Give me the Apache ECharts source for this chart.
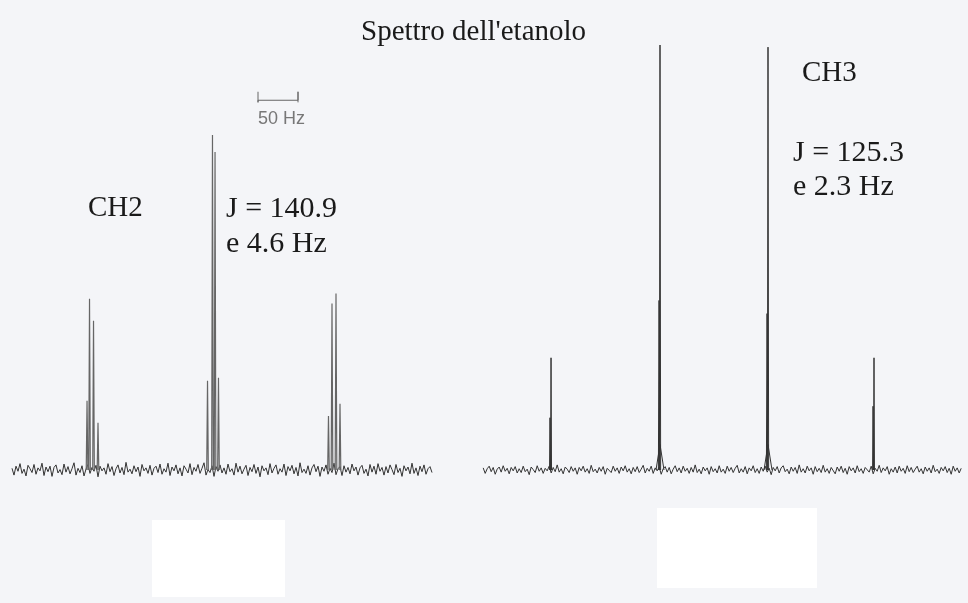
<!DOCTYPE html>
<html>
<head>
<meta charset="utf-8">
<title>Spettro dell'etanolo</title>
<script src="https://cdn.jsdelivr.net/npm/echarts@6/dist/echarts.min.js"></script>
<style>
    html, body { margin: 0; padding: 0; background: #f4f5f8; }
    #chart { width: 968px; height: 603px; }
</style>
</head>
<body>
<div id="chart"></div>
<script>
// Spettro 13C dell'etanolo (accoppiato), asse x in Hz, asse y intensita relativa

// rumore della linea di base, un valore ogni 2.5 Hz
const leftStart = 15;
const rightStart = 604;
const noiseStep = 2.5;
const noiseLeft = [
    0.4, -1.2, 0.9, -0.3, 1.5, -0.8, 0.2, -1.4, 1.1, 0.3,
    -0.6, 1.3, -1.0, 0.5, -0.2, 1.6, -1.3, 0.7, -0.4, 0.9,
    -1.5, 0.6, 1.2, -0.7, 0.1, -1.1, 1.4, -0.5, 0.8, -0.9,
    0.3, 1.7, -1.2, 0.4, -0.6, 1.0, -1.4, 0.2, 1.3, -0.8,
    0.6, -0.3, 1.1, -1.6, 0.9, -0.2, 0.5, -1.0, 1.5, -0.4,
    0.8, -1.3, 0.3, 1.2, -0.7, 0.6, -1.1, 1.8, -0.5, 0.2,
    -0.9, 1.0, -0.4, 0.7, -1.5, 1.3, -0.2, 0.5, -0.8, 1.1,
    -1.2, 0.4, 0.9, -0.6, 1.4, -1.0, 0.3, -0.5, 1.6, -1.3,
    0.7, -0.2, 1.2, -0.9, 0.5, -1.4, 1.0, 0.2, -0.7, 1.5,
    -1.1, 0.6, -0.3, 1.3, -0.8, 0.4, 1.7, -1.2, 0.1, -0.6,
    1.0, -1.5, 0.8, -0.3, 1.2, -0.7, 0.5, -1.0, 1.4, -0.4,
    0.3, -1.2, 1.6, -0.5, 0.9, -0.9, 0.2, 1.1, -1.3, 0.6,
    -0.4, 1.3, -0.8, 0.7, -1.6, 1.0, -0.2, 0.5, -1.1, 1.5,
    -0.7, 0.4, 1.2, -1.0, 0.3, -0.5, 1.4, -1.3, 0.8, -0.2,
    1.1, -0.9, 0.6, -1.4, 1.7, -0.6, 0.2, -0.8, 1.0, -1.2,
    0.5, 1.3, -0.4, 0.9, -1.5, 0.7, -0.3, 1.2, -1.0, 0.4,
    -0.6, 1.6, -1.1, 0.3, 0.8, -1.3, 1.0, -0.5, 0.6, -0.9,
    1.4, -0.2, 0.7, -1.2, 0.5, 1.1, -0.8, 0.2, -1.4, 1.3,
    -0.5, 0.9, -1.0, 1.5, -0.3, 0.6, -1.2, 0.8, -0.7, 1.2,
    0.1, -1.1, 1.3, -0.6, 0.4, -1.5, 1.0, -0.2, 0.7, -0.9,
    1.6, -0.8, 0.5, -1.3, 0.9, -0.4, 1.2, -1.0, 0.3, 0.8,
    -0.6
];
const noiseRight = [
    0.5, -0.8, 0.3, 0.9, -0.4, 0.6, -1.0, 0.2, 0.7, -0.5,
    1.0, -0.3, 0.4, -0.9, 0.6, -0.2, 0.8, -0.7, 0.3, -0.6,
    0.9, -0.4, 0.2, -1.1, 0.7, 0.1, -0.6, 1.0, -0.3, 0.5,
    -0.8, 0.4, -0.2, 0.9, -0.7, 0.6, -0.4, 1.2, -0.5, 0.3,
    -0.9, 0.7, 0.2, -0.6, 0.8, -0.3, 0.5, -1.0, 0.6, -0.2,
    0.9, -0.5, 0.3, -0.8, 1.1, -0.4, 0.2, -0.7, 0.6, -0.3,
    0.8, -1.0, 0.4, 0.1, -0.6, 0.9, -0.3, 0.5, -0.8, 0.7,
    -0.2, 1.0, -0.5, 0.3, -0.9, 0.6, -0.4, 0.8, -0.6, 0.2,
    1.1, -0.7, 0.4, -0.3, 0.9, -0.8, 0.5, -0.2, 0.7, -1.0,
    0.3, 0.8, -0.5, 0.6, -0.9, 0.2, 1.0, -0.4, 0.5, -0.7,
    0.9, -0.3, 0.4, -0.8, 0.6, -0.5, 1.2, -0.6, 0.2, -0.9,
    0.7, -0.2, 0.5, -1.0, 0.8, -0.4, 0.3, -0.7, 1.0, -0.5,
    0.2, -0.8, 0.9, -0.3, 0.6, -0.6, 0.4, 1.1, -0.7, 0.3,
    -0.5, 0.8, -0.9, 0.5, -0.2, 1.0, -0.6, 0.3, -0.8, 0.7,
    -0.3, 0.9, -0.5, 0.4, -1.1, 0.6, -0.2, 0.8, -0.7, 0.5,
    1.0, -0.4, 0.2, -0.9, 0.7, -0.3, 0.6, -0.8, 1.2, -0.5,
    0.3, -0.7, 0.9, -0.2, 0.5, -1.0, 0.8, -0.4, 0.4, -0.6,
    1.1, -0.5, 0.3, -0.8, 0.6, 0.2, -0.9, 0.7, -0.3, 0.9,
    -0.6, 0.4, -1.0, 0.8, -0.2, 0.5, -0.7, 1.0, -0.4, 0.3,
    -0.8, 0.6, 0.2, -0.5, 0.9, -0.9, 0.4, -0.3, 1.1, -0.6,
    0.5, -0.2, 0.8, -1.0, 0.3, -0.5, 0.7, -0.7, 0.9, -0.3,
    0.4, -0.8, 1.0, -0.4, 0.6, -0.6, 0.2, 0.9, -0.5, 0.3,
    -0.9, 0.7, -0.3, 0.5, -0.7, 1.1, -0.4, 0.2, -0.8, 0.6,
    -0.2, 0.8, -0.6, 0.4, -1.0, 0.9, -0.3, 0.5, -0.7, 0.4
];

// righe: [posizione Hz, altezza, semi-larghezza Hz]
const ch2Lines = [
    [108.8, 16.3, 1.0], [111.9, 40.3, 1.0], [116.9, 35.1, 1.0], [122.5, 11.1, 1.0],
    [259.4, 21.0, 1.0], [265.6, 78.8, 1.0], [268.8, 74.8, 1.0], [273.1, 21.7, 1.0],
    [410.6, 12.7, 1.0], [415.0, 39.2, 1.0], [420.0, 41.5, 1.0], [425.0, 15.6, 1.0]
];
const ch3Lines = [
    [687.5, 12.3, 0.6], [688.8, 26.4, 0.6],
    [825.0, 6.0, 5.0], [823.8, 39.9, 0.8], [825.0, 100.0, 0.8],
    [960.0, 6.0, 5.0], [958.8, 36.8, 0.8], [960.0, 99.5, 0.8],
    [1091.3, 15.0, 0.6], [1092.5, 26.4, 0.6]
];

// barra di scala 50 Hz
const scaleFrom = 322.5;
const scaleHz = 50;
const scaleLevel = 87;

const serif = "'Liberation Serif', 'DejaVu Serif', serif";

// rumore -> punti [x, y]
function noisePoints(start, values) {
    let pts = [];
    for (let i = 0; i < values.length; i++) {
        pts.push([start + i * noiseStep, values[i]]);
    }
    return pts;
}

// righe -> picchi sottili, separati da un vuoto
function spikePoints(lines) {
    let pts = [];
    for (let i = 0; i < lines.length; i++) {
        let l = lines[i];
        pts.push([l[0] - l[2], 0]);
        pts.push([l[0], l[1]]);
        pts.push([l[0] + l[2], 0]);
        pts.push([l[0] + l[2], '-']);
    }
    return pts;
}

function lineSeries(data, color, width) {
    return {
        type: 'line',
        data: data,
        symbol: 'none',
        connectNulls: false,
        silent: true,
        animation: false,
        lineStyle: { color: color, width: width }
    };
}

function label(text, x, y, size, font, color) {
    return {
        type: 'text',
        left: x,
        top: y,
        style: {
            text: text,
            font: size + 'px ' + font,
            fill: color || '#1a1a1a'
        }
    };
}

let chart = echarts.init(document.getElementById('chart'), null, { renderer: 'canvas' });

let scaleBar = [
    [scaleFrom, scaleLevel + 2], [scaleFrom, scaleLevel - 0.5], [scaleFrom, scaleLevel],
    [scaleFrom + scaleHz, scaleLevel], [scaleFrom + scaleHz, scaleLevel + 2], [scaleFrom + scaleHz, scaleLevel - 0.5]
];

chart.setOption({
    backgroundColor: '#f4f5f8',
    grid: { left: 0, right: 0, top: 45, bottom: 82 },
    xAxis: { type: 'value', min: 0, max: 1210, show: false },
    yAxis: { type: 'value', min: -12, max: 100, show: false },
    series: [
        lineSeries(noisePoints(leftStart, noiseLeft), '#333333', 1),
        lineSeries(noisePoints(rightStart, noiseRight), '#333333', 1),
        lineSeries(spikePoints(ch2Lines), '#666666', 1.2),
        lineSeries(spikePoints(ch3Lines), '#333333', 1),
        lineSeries(scaleBar, '#666666', 1)
    ],
    graphic: [
        { type: 'rect', left: 152, top: 520, shape: { width: 133, height: 77 }, style: { fill: '#ffffff' }, z: -1 },
        { type: 'rect', left: 657, top: 508, shape: { width: 160, height: 80 }, style: { fill: '#ffffff' }, z: -1 },
        label("Spettro dell'etanolo", 361, 18, 29, serif),
        label('CH2', 88, 194, 29, serif),
        label('J = 140.9', 226, 194, 30, serif),
        label('e 4.6 Hz', 226, 229, 30, serif),
        label('CH3', 802, 59, 29, serif),
        label('J = 125.3', 793, 138, 30, serif),
        label('e 2.3 Hz', 793, 172, 30, serif),
        label('50 Hz', 258, 110, 18, "'Liberation Sans', sans-serif", '#777777')
    ]
});
</script>
</body>
</html>
